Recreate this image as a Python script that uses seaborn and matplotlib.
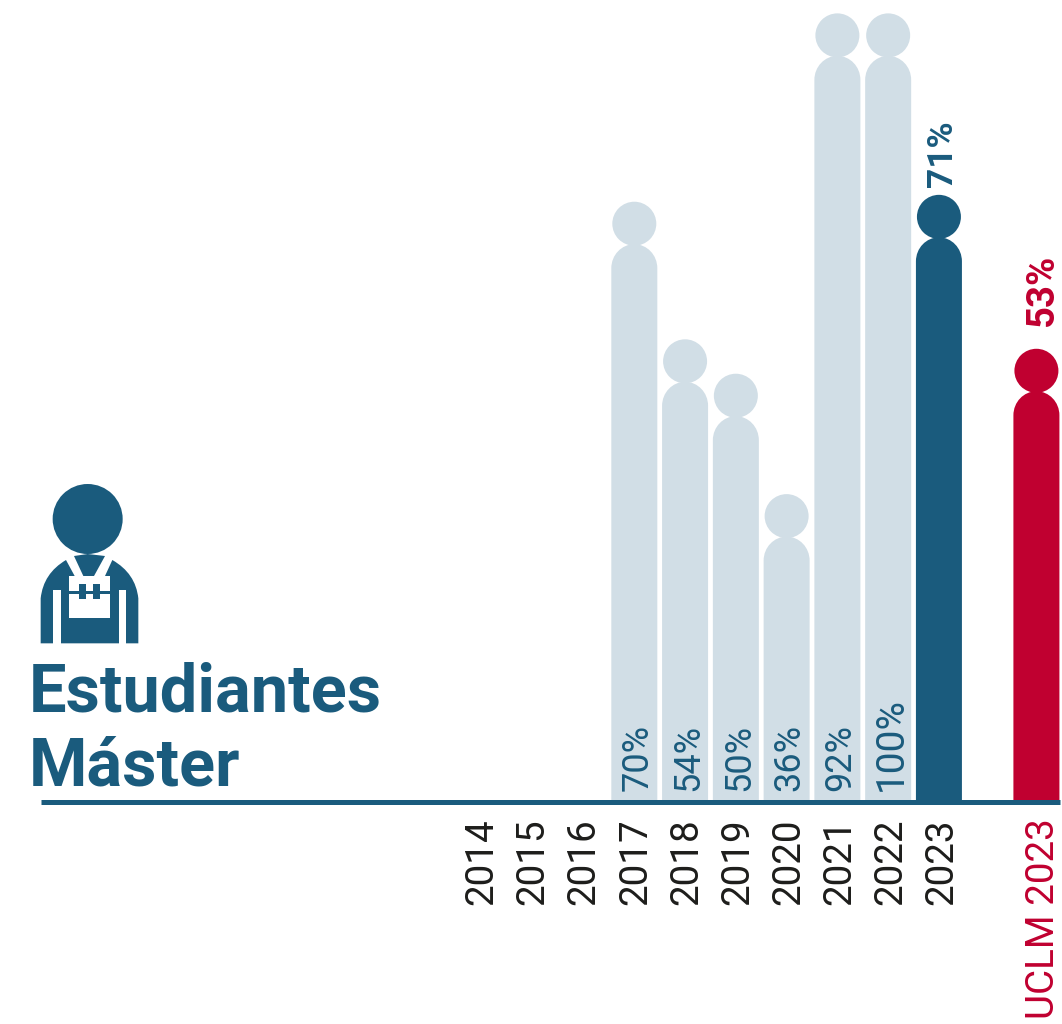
import numpy as np
import pandas as pd
import matplotlib
matplotlib.use('Agg')
import matplotlib.pyplot as plt
import seaborn as sns
from matplotlib.patches import Circle, PathPatch, Polygon, Rectangle
from matplotlib.path import Path

years = ['2014', '2015', '2016', '2017', '2018', '2019', '2020', '2021', '2022', '2023']
uclm_label = 'UCLM 2023'
bar_years = ['2017', '2018', '2019', '2020', '2021', '2022', '2023', uclm_label]
# percentages printed on the chart
pct_labels = [70, 54, 50, 36, 92, 100, 71, 53]
# height the bars really reach, the chart tops out at 92
bar_values = [70.1, 54.1, 50.1, 36.1, 92, 92, 70.9, 53]
bar_groups = ['past', 'past', 'past', 'past', 'past', 'past', 'current', 'uclm']

BLUE = '#1a5b7d'
LIGHT = '#d1dee6'
RED = '#c00030'
INK = '#1d1d1b'
palette = {'past': LIGHT, 'current': BLUE, 'uclm': RED}

W, H = 1062, 1024
PX_PER_VALUE = 8.6       # vertical px per percentage point
PX_PER_SLOT = 50.77      # horizontal px per year
X0 = 482                 # px of the 2014 slot
BASE_PX = 801.5
BASE_VALUE = 5.3
UCLM_POS = 10.92
LABEL_STEP = 51.1 / PX_PER_SLOT  # year labels are spaced a little wider than the bars

sns.set_theme(style='white')
plt.rcParams['font.family'] = ['Roboto', 'DejaVu Sans']

positions = {y: i for i, y in enumerate(years)}
positions[uclm_label] = UCLM_POS
df = pd.DataFrame({'year': bar_years, 'value': bar_values, 'pct': pct_labels, 'group': bar_groups})
df['pos'] = df['year'].map(positions)
df['head'] = df['value'] + 20.5 / PX_PER_VALUE

fig = plt.figure(figsize=(W / 100, H / 100), dpi=100, facecolor='white')
ax = fig.add_axes([41 / W, 1 - BASE_PX / H, (1060 - 41) / W, BASE_PX / H])

sns.barplot(data=df, x='pos', y='value', hue='group', palette=palette, native_scale=True,
            dodge=False, width=46 / PX_PER_SLOT, saturation=1, legend=False, ax=ax)
# head
sns.scatterplot(data=df, x='pos', y='head', hue='group', palette=palette, s=(44 * 0.72) ** 2,
                linewidth=0, legend=False, ax=ax, zorder=3)

# swap the square bar tops for round shoulders
rx = 23 / PX_PER_SLOT
ry = 24 / PX_PER_VALUE
k = 0.5523
for bar in list(ax.patches):
    x0, x1 = bar.get_x(), bar.get_x() + bar.get_width()
    top = bar.get_height()
    if not np.isfinite(top) or top == 0:
        continue
    verts = [(x0, 0), (x0, top - ry), (x0, top - ry + k * ry), (x0 + rx - k * rx, top), (x0 + rx, top),
             (x1 - rx + k * rx, top), (x1, top - ry + k * ry), (x1, top - ry), (x1, 0), (x0, 0)]
    codes = [Path.MOVETO, Path.LINETO, Path.CURVE4, Path.CURVE4, Path.CURVE4,
             Path.CURVE4, Path.CURVE4, Path.CURVE4, Path.LINETO, Path.CLOSEPOLY]
    ax.add_patch(PathPatch(Path(verts, codes), fc=bar.get_facecolor(), ec='none', zorder=2))
    bar.set_visible(False)

ax.set_xlim((41 - X0) / PX_PER_SLOT, (1060 - X0) / PX_PER_SLOT)
ax.set_ylim(BASE_VALUE, BASE_VALUE + BASE_PX / PX_PER_VALUE)
ax.set_xlabel('')
ax.set_ylabel('')
ax.set_yticks([])
ax.patch.set_alpha(0)

for side in ['top', 'left', 'right']:
    ax.spines[side].set_visible(False)
ax.spines['bottom'].set_color(BLUE)
ax.spines['bottom'].set_linewidth(5 * 0.72)
ax.spines['bottom'].set_capstyle('butt')
ax.spines['bottom'].set_zorder(4)

ticks = [i * LABEL_STEP for i in range(len(years))] + [UCLM_POS + 0.14]
ax.set_xticks(ticks)
ax.set_xticklabels(years + [uclm_label], rotation=90, va='top', ha='center', fontsize=27.8, color=INK)
ax.tick_params(axis='x', length=0, pad=12)
ax.get_xticklabels()[-1].set_color(RED)

# percentages
for _, row in df.iterrows():
    if row['group'] == 'past':
        size = 28 if row['pct'] == 100 else 26
        ax.text(row['pos'] + 0.06, 6.5, f"{row['pct']}%", rotation=90, ha='center', va='bottom',
                fontsize=size, color=BLUE)
    elif row['group'] == 'current':
        ax.text(row['pos'] + 0.08, row['head'] + 30 / PX_PER_VALUE, f"{row['pct']}%", rotation=90,
                ha='center', va='bottom', fontsize=25.5, color=BLUE, fontweight='bold')
    else:
        ax.text(row['pos'] + 0.12, row['head'] + 45 / PX_PER_VALUE, f"{row['pct']}%", rotation=90,
                ha='center', va='bottom', fontsize=27.5, color=RED, fontweight='bold')

fig.text(28.5 / W, 1 - 712 / H, 'Estudiantes', fontsize=48, fontweight='bold', color=BLUE, ha='left', va='baseline')
fig.text(28.5 / W, 1 - 785 / H, 'Máster', fontsize=48, fontweight='bold', color=BLUE, ha='left', va='baseline')

# worker icon, drawn in a small axes in crop coordinates (3x px)
icon = fig.add_axes([20 / W, 1 - 660 / H, 140 / W, 190 / H])
icon.set_xlim(0, 420)
icon.set_ylim(570, 0)
icon.axis('off')
icon.add_patch(Circle((203, 147), 105, fc=BLUE, ec='none'))
body_verts = [(62, 520), (62, 385), (70, 310), (138, 270), (164, 318), (255, 318), (277, 270),
              (347, 310), (355, 385), (355, 520), (62, 520)]
body_codes = [Path.MOVETO, Path.LINETO, Path.CURVE3, Path.CURVE3, Path.LINETO, Path.LINETO, Path.LINETO,
              Path.CURVE3, Path.CURVE3, Path.LINETO, Path.CLOSEPOLY]
icon.add_patch(PathPatch(Path(body_verts, body_codes), fc=BLUE, ec='none'))
icon.add_patch(Rectangle((100, 360), 22, 165, fc='white', ec='none'))
icon.add_patch(Rectangle((296, 360), 22, 165, fc='white', ec='none'))
icon.add_patch(Rectangle((148, 318), 122, 127, fc='white', ec='none'))
icon.add_patch(Polygon([(162, 258), (203, 252), (255, 258), (222, 318), (190, 318)], fc=BLUE, ec='none'))
icon.add_patch(Rectangle((178, 343), 19, 44, fc=BLUE, ec='none'))
icon.add_patch(Rectangle((220, 343), 19, 44, fc=BLUE, ec='none'))
icon.add_patch(Rectangle((148, 363), 122, 8, fc=BLUE, ec='none'))

plt.savefig('out.png', dpi=100, facecolor='white')
plt.close()
